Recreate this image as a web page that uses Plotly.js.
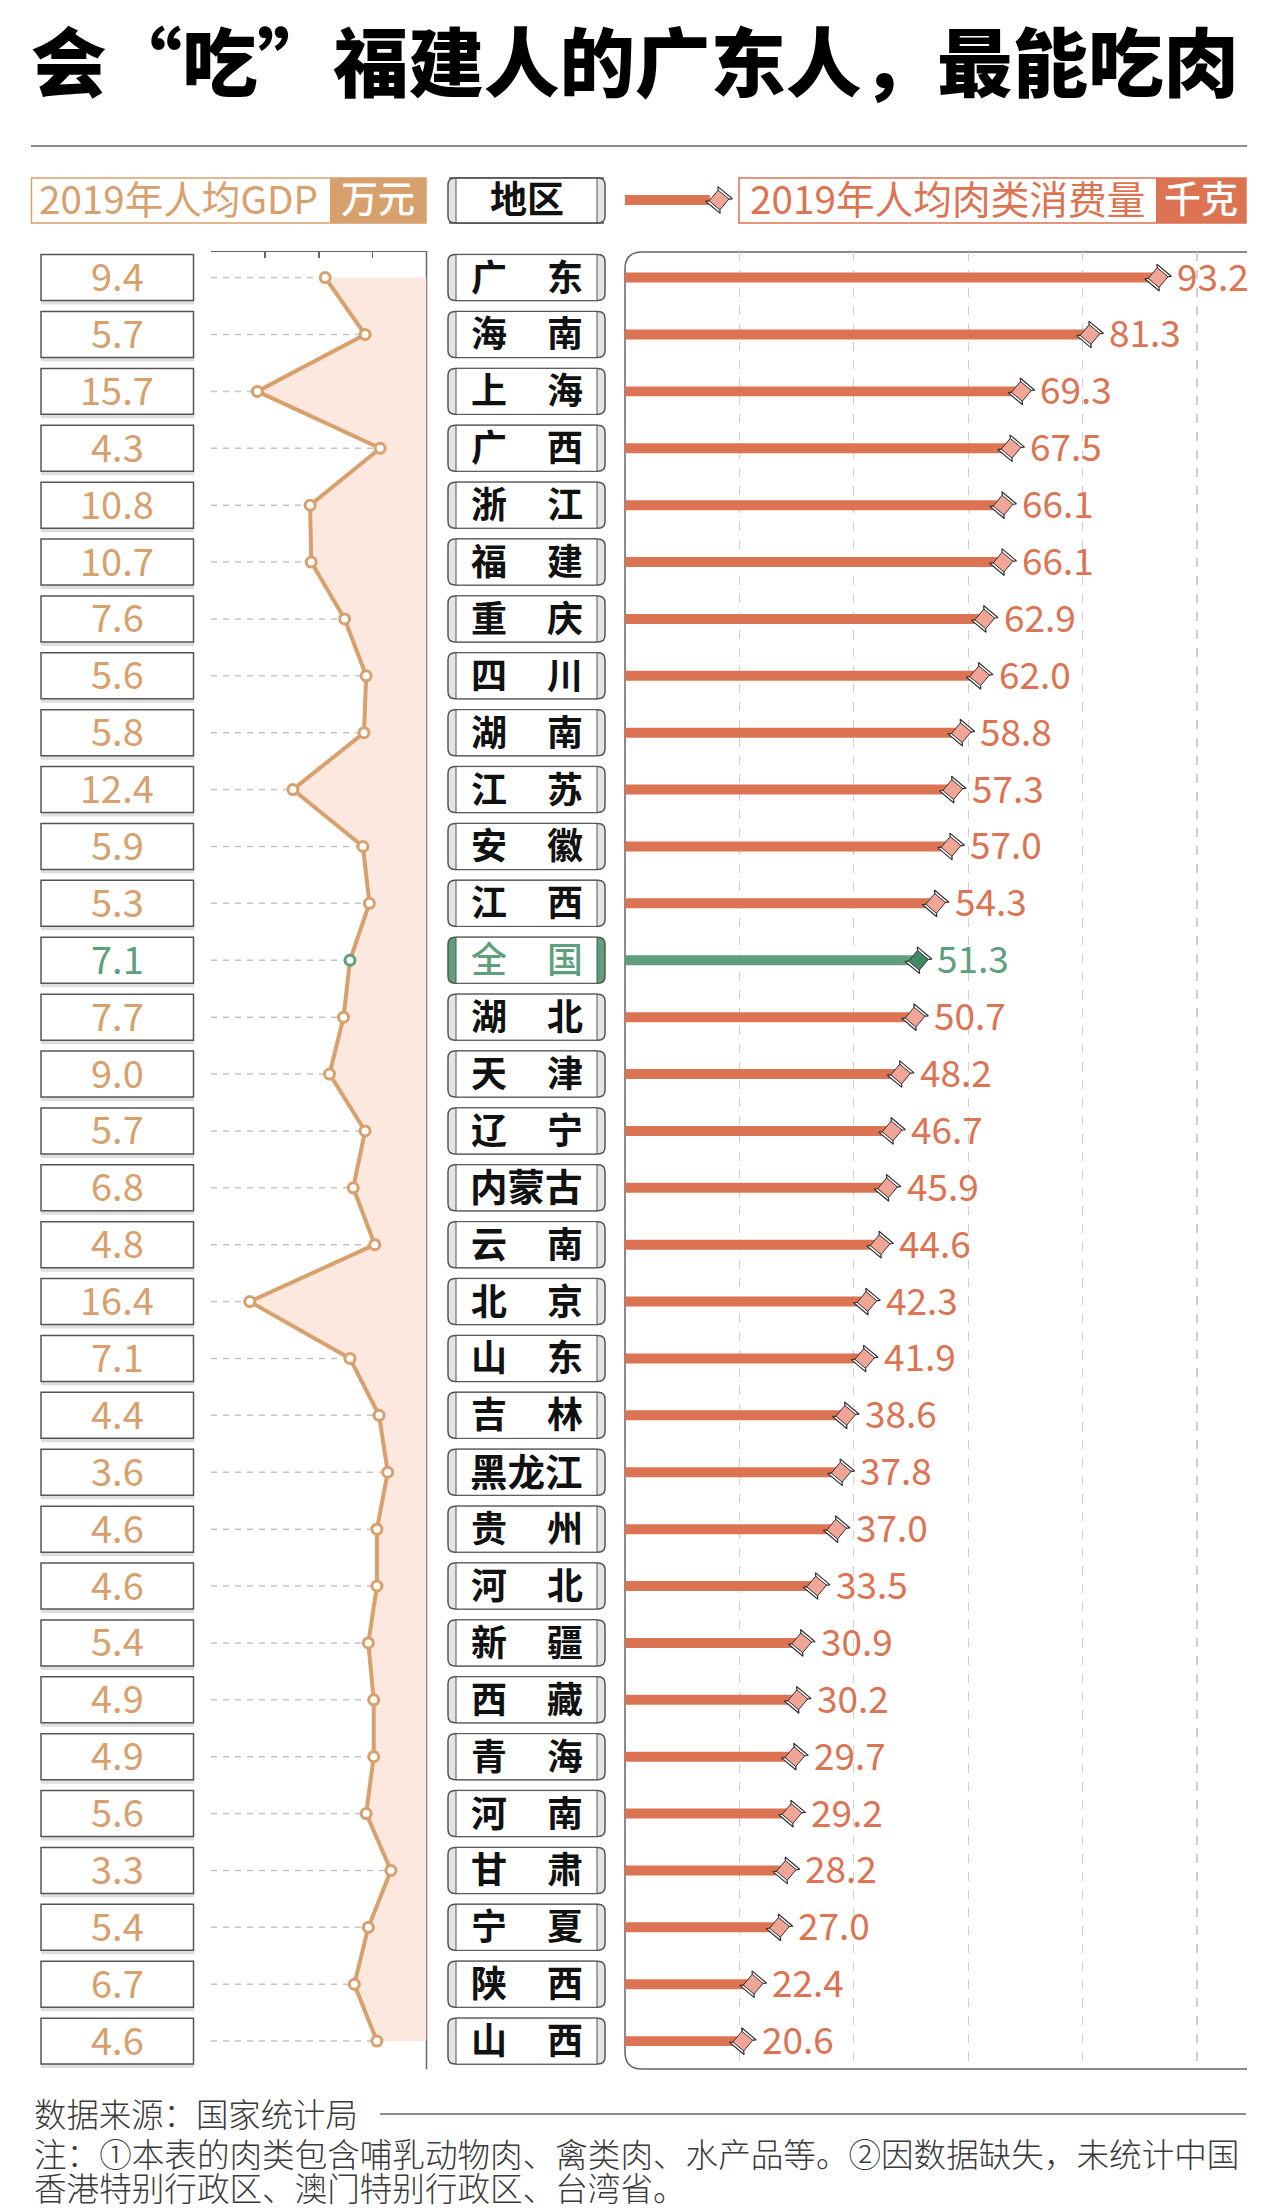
<!DOCTYPE html>
<html><head><meta charset="utf-8">
<script src="https://cdn.plot.ly/plotly-3.0.1.min.js"></script>
<style>html,body{margin:0;padding:0;background:#fff}#c{width:1280px;height:2210px}</style>
</head><body><div id="c"></div>
<script>
const regions=["广东","海南","上海","广西","浙江","福建","重庆","四川","湖南","江苏","安徽","江西","全国","湖北","天津","辽宁","内蒙古","云南","北京","山东","吉林","黑龙江","贵州","河北","新疆","西藏","青海","河南","甘肃","宁夏","陕西","山西"];
const gdp=[9.4,5.7,15.7,4.3,10.8,10.7,7.6,5.6,5.8,12.4,5.9,5.3,7.1,7.7,9.0,5.7,6.8,4.8,16.4,7.1,4.4,3.6,4.6,4.6,5.4,4.9,4.9,5.6,3.3,5.4,6.7,4.6];
const meat=[93.2,81.3,69.3,67.5,66.1,66.1,62.9,62.0,58.8,57.3,57.0,54.3,51.3,50.7,48.2,46.7,45.9,44.6,42.3,41.9,38.6,37.8,37.0,33.5,30.9,30.2,29.7,29.2,28.2,27.0,22.4,20.6];
const fx=v=>v.toFixed(1);
const rows=regions.map((_,i)=>i);
const F='"Noto Sans CJK SC","Noto Sans",sans-serif';
const TAN='#d8a06c',CORAL='#dc7352',GREEN='#5f9f7e',PINK='#f0a596',DGREEN='#3f8a62',INK='#555';
const isNat=r=>r==='全国';
const X=p=>p/1280, Y=p=>1-p/2210;
const PITCH=56.9, BOXH=46/PITCH;
const shapes=[],ann=[];
function rectP(x0,x1,y0,y1,fill,lc,lw){shapes.push({type:'rect',xref:'paper',yref:'paper',x0:X(x0),x1:X(x1),y0:Y(y0),y1:Y(y1),fillcolor:fill,line:{color:lc||fill,width:lw===undefined?1.5:lw},layer:'below'});}
function lineP(x0,y0,x1,y1,c,w){shapes.push({type:'line',xref:'paper',yref:'paper',x0:X(x0),x1:X(x1),y0:Y(y0),y1:Y(y1),line:{color:c,width:w},layer:'below'});}
function txt(t,x,y,size,color,anchor,weight,yref){ann.push({text:t,x:X(x),y:yref?y:Y(y),xref:'paper',yref:yref||'paper',yshift:yref?3:0,xanchor:anchor||'center',yanchor:'middle',showarrow:false,font:{family:F,size:size,color:color,weight:weight||400}});}
function rrPath(x0,x1,c,hh,r){const rd=r/PITCH,a=X(x0),b=X(x1),ax=X(x0+r),bx=X(x1-r);
  return `M${ax},${c-hh}L${bx},${c-hh}Q${b},${c-hh} ${b},${c-hh+rd}L${b},${c+hh-rd}Q${b},${c+hh} ${bx},${c+hh}L${ax},${c+hh}Q${a},${c+hh} ${a},${c+hh-rd}L${a},${c-hh+rd}Q${a},${c-hh} ${ax},${c-hh}Z`;}

/* top rule and headers */
lineP(31,146,1247,146,'#666',1.5);
rectP(31.5,426,178,223,'#fff',TAN,1.5);
rectP(330,426,178,223,TAN,TAN,0);
txt('2019年人均GDP',37,197,38.6,TAN,'left',400);
txt('万元',378,197,37,'#fff','center',500);
rectP(739,1246,178,223,'#fff',CORAL,1.5);
rectP(1156,1246,178,223,CORAL,CORAL,0);
txt('2019年人均肉类消费量',748,197,38.7,CORAL,'left',400);
txt('千克',1201,197,37,'#fff','center',500);
rectP(625,710,195,205,CORAL,CORAL,0);
/* 地区 header tab */
const hdrPath=(x0,x1,r)=>{const a=X(x0),b=X(x1),ax=X(x0+r),bx=X(x1-r),t=Y(178),u=Y(223),dr=r/2210;
  return `M${ax},${t}L${bx},${t}Q${b},${t} ${b},${t-dr}L${b},${u+dr}Q${b},${u} ${bx},${u}L${ax},${u}Q${a},${u} ${a},${u+dr}L${a},${t-dr}Q${a},${t} ${ax},${t}Z`;};
shapes.push({type:'path',xref:'paper',yref:'paper',path:hdrPath(448,605,7),fillcolor:'#e4e4e4',line:{color:INK,width:1.5},layer:'below'});
rectP(456,597,178,223,'#fff',INK,1);
lineP(449,178,604,178,INK,1.5);lineP(449,223,604,223,INK,1.5);
txt('地区',526.5,197,37,'#111','center',700);

/* row furniture */
regions.forEach((r,i)=>{
  const nat=isNat(r), hh=BOXH/2;
  shapes.push({type:'rect',xref:'paper',yref:'y',x0:X(41),x1:X(194),y0:i-hh+4/PITCH,y1:i+hh+4/PITCH,fillcolor:'#dedede',line:{width:0},layer:'below'});
  shapes.push({type:'rect',xref:'paper',yref:'y',x0:X(41),x1:X(193.5),y0:i-hh,y1:i+hh,fillcolor:'#fff',line:{color:INK,width:1.5},layer:'below'});
  shapes.push({type:'path',xref:'paper',yref:'y',path:rrPath(448,605,i,hh,7),fillcolor:nat?GREEN:'#e4e4e4',line:{color:INK,width:1.5},layer:'below'});
  shapes.push({type:'rect',xref:'paper',yref:'y',x0:X(456),x1:X(597),y0:i-hh,y1:i+hh,fillcolor:'#fff',line:{color:INK,width:1},layer:'below'});
  txt(fx(gdp[i]),117,i,38,nat?GREEN:TAN,'center',400,'y');
  const col=nat?GREEN:'#111';
  const w=nat?500:700;
  if(r.length===2){txt(r[0],489,i,36,col,'center',w,'y');txt(r[1],565,i,36,col,'center',w,'y');}
  else txt(r,526.5,i,37.5,col,'center',w,'y');
  ann.push({text:fx(meat[i]),x:meat[i],y:i,xref:'x2',yref:'y',xshift:17,yshift:3,xanchor:'left',yanchor:'middle',showarrow:false,font:{family:F,size:37,color:nat?GREEN:CORAL}});
});

/* panel frames */
lineP(426.5,251,426.5,2069,'#666',1.5);
shapes.push({type:'path',xref:'paper',yref:'paper',
  path:`M${X(1247)},${Y(252)}L${X(642)},${Y(252)}Q${X(625)},${Y(252)} ${X(625)},${Y(269)}L${X(625)},${Y(2052)}Q${X(625)},${Y(2069)} ${X(642)},${Y(2069)}L${X(1247)},${Y(2069)}`,
  line:{color:'#666',width:1.5},layer:'below'});

/* footer */
txt('数据来源：国家统计局',32,2112,32.4,'#3a3a3a','left',300);
lineP(380,2114,1246,2114,'#666',1.5);
txt('注：①本表的肉类包含哺乳动物肉、禽类肉、水产品等。②因数据缺失，未统计中国',32,2152,32.6,'#3a3a3a','left',300);
txt('香港特别行政区、澳门特别行政区、台湾省。',32,2186.5,32.6,'#3a3a3a','left',300);

const guideX=[],guideY=[];
gdp.forEach((v,i)=>{guideX.push(20,v,null);guideY.push(i,i,null);});
const barCols=regions.map(r=>isNat(r)?GREEN:CORAL);
const bodyCols=regions.map(r=>isNat(r)?DGREEN:PINK);

const bone={symbol:'bowtie',size:19,angle:-50,color:'#fff',line:{color:'#333',width:1.2}};
const body={symbol:'square',size:14,angle:-50,line:{color:'#333',width:1}};
const traces=[
 {type:'scatter',mode:'lines',x:guideX,y:guideY,xaxis:'x',yaxis:'y',line:{color:'#c4c4c4',width:1.5,dash:'6px,6px'},hoverinfo:'skip',showlegend:false},
 {type:'scatter',mode:'lines',x:gdp,y:rows,xaxis:'x',yaxis:'y',fill:'tozerox',fillcolor:'#fce8df',line:{color:'rgba(0,0,0,0)',width:0},hoverinfo:'skip',showlegend:false},
 {type:'scatter',mode:'lines+markers',x:gdp,y:rows,xaxis:'x',yaxis:'y',line:{color:TAN,width:4},
  marker:{size:10,color:'#fff',line:{width:3,color:regions.map(r=>isNat(r)?GREEN:TAN)}},showlegend:false,name:'2019年人均GDP'},
 {type:'bar',orientation:'h',x:meat,y:rows,xaxis:'x2',yaxis:'y',width:10/PITCH,marker:{color:barCols,line:{width:0}},showlegend:false,name:'2019年人均肉类消费量'},
 {type:'scatter',mode:'markers',x:meat,y:rows,xaxis:'x2',yaxis:'y',cliponaxis:false,hoverinfo:'skip',showlegend:false,marker:bone},
 {type:'scatter',mode:'markers',x:meat,y:rows,xaxis:'x2',yaxis:'y',cliponaxis:false,hoverinfo:'skip',showlegend:false,marker:Object.assign({color:bodyCols},body)},
 {type:'scatter',mode:'markers',x:[719],y:[200],xaxis:'x3',yaxis:'y3',hoverinfo:'skip',showlegend:false,marker:bone},
 {type:'scatter',mode:'markers',x:[719],y:[200],xaxis:'x3',yaxis:'y3',hoverinfo:'skip',showlegend:false,marker:Object.assign({color:PINK},body)}
];

const layout={
 width:1280,height:2210,margin:{l:0,r:0,t:0,b:0},paper_bgcolor:'#fff',plot_bgcolor:'rgba(0,0,0,0)',
 showlegend:false,hovermode:false,barmode:'overlay',font:{family:F},
 title:{text:'会“吃”福建人的广东人，最能吃肉',x:31/1280,xanchor:'left',xref:'paper',y:Y(65),yref:'paper',yanchor:'middle',font:{family:F,size:75.5,color:'#000',weight:900}},
 xaxis:{domain:[X(211),X(426.5)],range:[20,0],side:'top',anchor:'y',dtick:5,tick0:0,ticks:'inside',ticklen:6,tickcolor:'#666',tickwidth:1.5,showticklabels:false,showgrid:false,zeroline:false,showline:true,linecolor:'#666',linewidth:1.5},
 xaxis2:{domain:[X(625),X(1247)],range:[0,622/5.72],anchor:'y',dtick:20,tick0:0,showticklabels:false,ticks:'',showgrid:true,griddash:'dash',gridcolor:'#cfcfcf',gridwidth:1.2,zeroline:false,showline:false},
 yaxis:{domain:[Y(2069),Y(252)],range:[31.49,-0.45],anchor:'x',showticklabels:false,ticks:'',showgrid:false,zeroline:false,showline:false},
 xaxis3:{domain:[0,1],range:[0,1280],anchor:'y3',visible:false},
 yaxis3:{domain:[0,1],range:[2210,0],anchor:'x3',visible:false},
 shapes:shapes,annotations:ann
};
Plotly.newPlot('c',traces,layout,{displayModeBar:false,staticPlot:true});
</script></body></html>
